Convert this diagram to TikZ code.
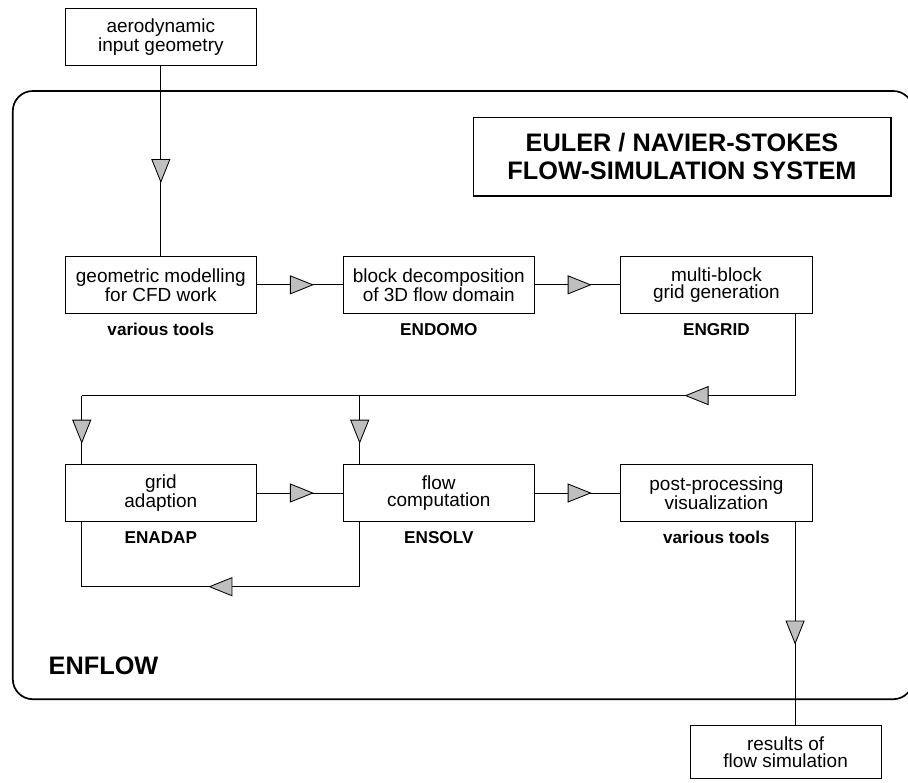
\documentclass[tikz,border=0pt]{standalone}
\usepackage{fontspec}
\setmainfont{Liberation Sans}
\usepackage{tikz}
\usetikzlibrary{
	calc,
	positioning,
	decorations.markings,
	}

\begin{document}
\begin{tikzpicture}[
	box/.style={draw,line width=0.7pt,minimum width=4.79cm,minimum height=1.41cm,inner sep=0pt,align=center,font=\fontsize{13.5}{11.8}\selectfont},
	tool/.style={inner sep=0pt,anchor=base,font=\bfseries\fontsize{12.2}{14}\selectfont},
	flow/.style={line width=0.6pt},
	tri at/.style={postaction={decorate,decoration={markings,mark=at position #1 with {\filldraw[fill=black!25,draw=black,line width=0.6pt] (0.28,0) -- (-0.28,0.225) -- (-0.28,-0.225) -- cycle;}}}},
	]
\useasboundingbox (0,0) rectangle (22.7,-19.55);
\draw[line width=1.2pt,rounded corners=0.5cm] (0.32,-2.275) rectangle (22.83,-17.48);
\node[draw,line width=1pt,minimum width=10.44cm,minimum height=1.97cm,inner sep=0pt,align=center,font=\bfseries\fontsize{18}{20}\selectfont] (title) at (17.05,-3.916) {EULER / NAVIER-STOKES\\FLOW-SIMULATION SYSTEM};
\node[inner sep=0pt,anchor=base west,font=\bfseries\fontsize{18}{20}\selectfont] (enflow) at (1.21,-16.85) {ENFLOW};
\node[box,minimum height=1.42cm] (input) at (4.021,-0.934) {aerodynamic\\input geometry};
\node[box] (geo) at (4.021,-7.121) {geometric modelling\\for CFD work};
\node[box] (decomp) at (10.97,-7.121) {block decomposition\\of 3D flow domain};
\node[box] (grid) at (17.91,-7.121) {multi-block\\grid generation};
\node[box] (adapt) at (4.021,-12.325) {grid\\adaption};
\node[box] (solve) at (10.97,-12.325) {flow\\computation};
\node[box] (post) at (17.91,-12.325) {post-processing\\visualization};
\node[box,minimum width=4.77cm,minimum height=1.31cm] (results) at (19.64,-18.8) {results of\\flow simulation};
\node[tool] (geotool) at ([yshift=-0.55cm]geo.south) {various tools};
\node[tool] (decomptool) at ([yshift=-0.55cm]decomp.south) {ENDOMO};
\node[tool] (gridtool) at ([yshift=-0.55cm]grid.south) {ENGRID};
\node[tool] (adapttool) at ([yshift=-0.55cm]adapt.south) {ENADAP};
\node[tool] (solvetool) at ([yshift=-0.55cm]solve.south) {ENSOLV};
\node[tool] (posttool) at ([yshift=-0.55cm]post.south) {various tools};
\coordinate (gridout) at ([xshift=-0.43cm]grid.south east);
\coordinate (adaptin) at ([xshift=0.43cm]adapt.north west);
\coordinate (solvein) at ([xshift=0.43cm]solve.north west);
\coordinate (adaptout) at ([xshift=0.43cm]adapt.south west);
\coordinate (solveout) at ([xshift=0.43cm]solve.south west);
\coordinate (postout) at ([xshift=-0.44cm]post.south east);
\coordinate (bus) at (adaptin |- 0,-9.89);
\draw[flow,tri at=0.55] (input) -- (geo);
\draw[flow,tri at=0.52] (geo) -- (decomp);
\draw[flow,tri at=0.52] (decomp) -- (grid);
\draw[flow,tri at=0.227] (gridout) |- (bus);
\draw[flow,tri at=0.52] (bus) -- (adaptin);
\draw[flow,tri at=0.52] (solvein |- bus) -- (solvein);
\draw[flow,tri at=0.52] (adapt) -- (solve);
\draw[flow,tri at=0.52] (solve) -- (post);
\draw[flow,tri at=0.5] (solveout) -- ++(0,-1.625) -| (adaptout);
\draw[flow,tri at=0.543] (postout) -- (postout |- results.north);
\end{tikzpicture}
\end{document}
